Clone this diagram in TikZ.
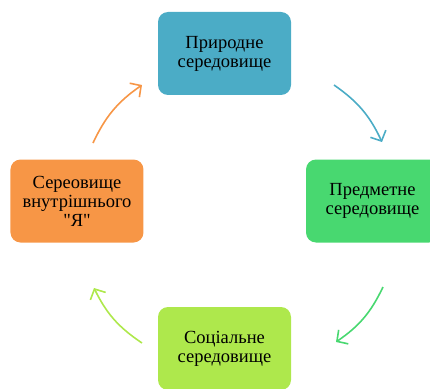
\documentclass[tikz,border=0pt]{standalone}
\usepackage{fontspec}
\setmainfont{Liberation Serif}[Ligatures=TeXOff]
\usetikzlibrary{arrows.meta}
\definecolor{EnvBlue}{RGB}{75,172,198}
\definecolor{EnvGreen}{RGB}{72,216,112}
\definecolor{EnvLime}{RGB}{174,232,76}
\definecolor{EnvOrange}{RGB}{247,150,70}
\tikzset{
  ebox/.style={rounded corners=10pt,minimum width=133pt,minimum height=83pt,align=center,font=\fontsize{18.5}{19}\selectfont},
  carr/.style={-{Straight Barb[length=8pt,width=17pt]},line width=1.6pt},
}

\begin{document}
\begin{tikzpicture}[x=1pt,y=1pt]
    \useasboundingbox (-224.5,-187) rectangle (205.5,201);
    \node[ebox,fill=EnvBlue] (nature) at (0,147.5) {Природне\\середовище};
    \node[ebox,fill=EnvGreen] (objects) at (148,0) {Предметне\\середовище};
    \node[ebox,fill=EnvLime] (social) at (0,-147.5) {Соціальне\\середовище};
    \node[ebox,fill=EnvOrange] (self) at (-147.5,0) {Сереовище\\внутрішнього\\"Я"};
    % arrow ends
    \coordinate (a1) at (109.5,116);
    \coordinate (a2) at (157.5,59);
    \coordinate (b1) at (158.5,-86);
    \coordinate (b2) at (111.5,-141);
    \coordinate (c1) at (-82.5,-142);
    \coordinate (c2) at (-130.5,-87);
    \coordinate (d1) at (-131.5,58);
    \coordinate (d2) at (-82.5,116);
    \draw[carr,EnvBlue] (a1) to[bend left=15] (a2);
    \draw[carr,EnvGreen] (b1) to[bend left=15] (b2);
    \draw[carr,EnvLime] (c1) to[bend left=15] (c2);
    \draw[carr,EnvOrange] (d1) to[bend left=15] (d2);
\end{tikzpicture}
\end{document}
